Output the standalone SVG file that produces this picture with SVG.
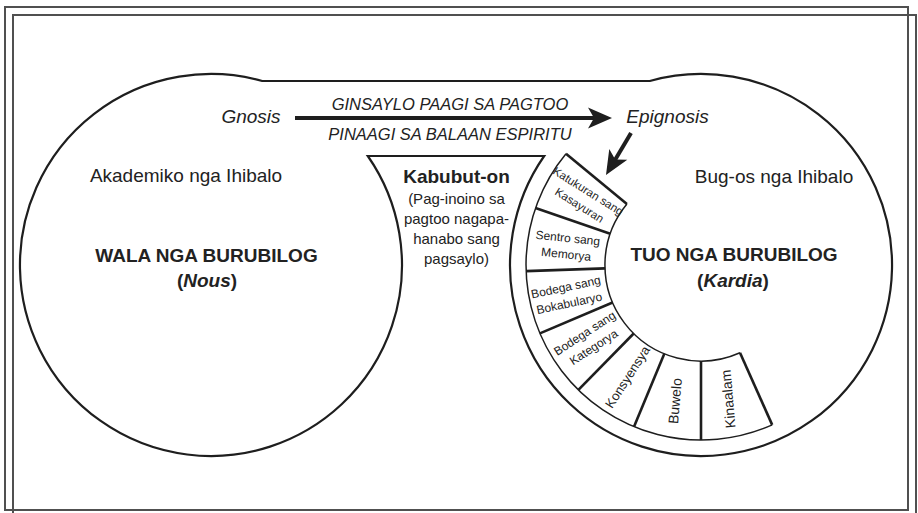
<svg xmlns="http://www.w3.org/2000/svg" width="918" height="513" viewBox="0 0 918 513">
<style>
.frame{fill:none;stroke:#505050;stroke-width:2}
.outline{fill:none;stroke:#1e1e1e;stroke-width:2.2}
.arc{fill:none;stroke:#1e1e1e;stroke-width:1.5}
.div{fill:none;stroke:#1e1e1e;stroke-width:2.6;stroke-linecap:butt}
.shaft{fill:none;stroke:#1e1e1e;stroke-width:4}
.head{fill:#1e1e1e;stroke:none}
text{font-family:"Liberation Sans",Arial,Helvetica,sans-serif;fill:#222}
.b19{font-size:19px;font-weight:bold}
.r19{font-size:19px}
.i19{font-size:19px;font-style:italic}
.i16{font-size:16.5px;font-style:italic}
.r15{font-size:15px}
.s12{font-size:12px}
.s11{font-size:11.5px}
.s13{font-size:13px}
.s14{font-size:14px}
</style>
<defs>
<path id="ah" class="head" d="M0,0 L-24,-10.5 L-18,0 L-24,10.5 Z"/>
</defs>
<rect x="0" y="0" width="918" height="513" fill="#ffffff"/>
<g id="frame">
<rect class="frame" x="13" y="15" width="903" height="503"/>
<rect class="frame" x="5" y="7" width="903" height="503" fill="#ffffff"/>
</g>
<g id="outline-shape">
<path class="outline" d="M262.2,81 L649.8,81 A191,191 0 1 1 544.2,156 L367.8,156 A191,191 0 1 1 262.2,81 Z"/>
</g>
<g id="node-nous">
<text class="r19" x="186" y="182" text-anchor="middle">Akademiko nga Ihibalo</text>
<text class="b19" x="206.5" y="262" text-anchor="middle">WALA NGA BURUBILOG</text>
<text class="b19" x="207" y="287" text-anchor="middle">(<tspan font-style="italic">Nous</tspan>)</text>
</g>
<g id="node-kardia">
<text class="r19" x="774" y="183" text-anchor="middle">Bug-os nga Ihibalo</text>
<text class="b19" x="734" y="261" text-anchor="middle">TUO NGA BURUBILOG</text>
<text class="b19" x="733" y="287" text-anchor="middle">(<tspan font-style="italic">Kardia</tspan>)</text>
</g>
<g id="node-kabubut-on">
<text class="b19" x="456.5" y="183" text-anchor="middle">Kabubut-on</text>
<text class="r15" x="456.5" y="204" text-anchor="middle">(Pag-inoino sa</text>
<text class="r15" x="456.5" y="223.5" text-anchor="middle">pagtoo nagapa-</text>
<text class="r15" x="456.5" y="243.5" text-anchor="middle">hanabo sang</text>
<text class="r15" x="456.5" y="263.5" text-anchor="middle">pagsaylo)</text>
</g>
<g id="node-gnosis">
<text class="i19" x="251" y="123" text-anchor="middle">Gnosis</text>
</g>
<g id="node-epignosis">
<text class="i19" x="667.5" y="123" text-anchor="middle">Epignosis</text>
</g>
<g id="ring">
<path class="arc" d="M566,153.7 A175,175 0 0 0 772.2,424.9"/>
<path class="arc" d="M626.9,203.9 A96,96 0 0 0 740,352.7"/>
<line class="div" x1="566" y1="153.7" x2="626.9" y2="203.9"/>
<line class="div" x1="535.5" y1="208" x2="610.2" y2="233.7"/>
<line class="div" x1="526.1" y1="271.1" x2="605.1" y2="268.4"/>
<line class="div" x1="539.9" y1="333.4" x2="612.6" y2="302.5"/>
<line class="div" x1="578.4" y1="389.8" x2="633.7" y2="333.5"/>
<line class="div" x1="634" y1="426.7" x2="664.3" y2="353.7"/>
<line class="div" x1="701" y1="440" x2="701" y2="361"/>
<line class="div" x1="772.2" y1="424.9" x2="740" y2="352.7"/>
</g>
<g id="seg-katukuran" transform="translate(584,198) rotate(32)">
<text class="s11" x="0" y="-4" text-anchor="middle">Katukuran sang</text>
<text class="s11" x="0" y="12.5" text-anchor="middle">Kasayuran</text>
</g>
<g id="seg-sentro" transform="translate(567,246) rotate(6)">
<text class="s12" x="0" y="-4" text-anchor="middle">Sentro sang</text>
<text class="s12" x="0" y="12.5" text-anchor="middle">Memorya</text>
</g>
<g id="seg-bokabularyo" transform="translate(567.5,295) rotate(-12)">
<text class="s12" x="0" y="-4" text-anchor="middle">Bodega sang</text>
<text class="s12" x="0" y="12.5" text-anchor="middle">Bokabularyo</text>
</g>
<g id="seg-kategorya" transform="translate(589,340) rotate(-33)">
<text class="s12" x="0" y="-4" text-anchor="middle">Bodega sang</text>
<text class="s12" x="0" y="12.5" text-anchor="middle">Kategorya</text>
</g>
<g id="seg-konsyensya" transform="translate(627.5,377) rotate(-57)">
<text class="s13" x="0" y="4.5" text-anchor="middle">Konsyensya</text>
</g>
<g id="seg-buwelo" transform="translate(675,401) rotate(-85)">
<text class="s14" x="0" y="5" text-anchor="middle">Buwelo</text>
</g>
<g id="seg-kinaalam" transform="translate(728,399) rotate(-95)">
<text class="s14" x="0" y="5" text-anchor="middle">Kinaalam</text>
</g>
<g id="connectors">
<line class="shaft" x1="295" y1="118" x2="596" y2="118"/>
<use href="#ah" transform="translate(612,118)"/>
<text class="i16" x="450" y="110" text-anchor="middle">GINSAYLO PAAGI SA PAGTOO</text>
<text class="i16" x="450" y="140" text-anchor="middle">PINAAGI SA BALAAN ESPIRITU</text>
<line class="shaft" x1="631" y1="133" x2="615" y2="160"/>
<use href="#ah" transform="translate(606,175) rotate(120.8)"/>
</g>
</svg>
